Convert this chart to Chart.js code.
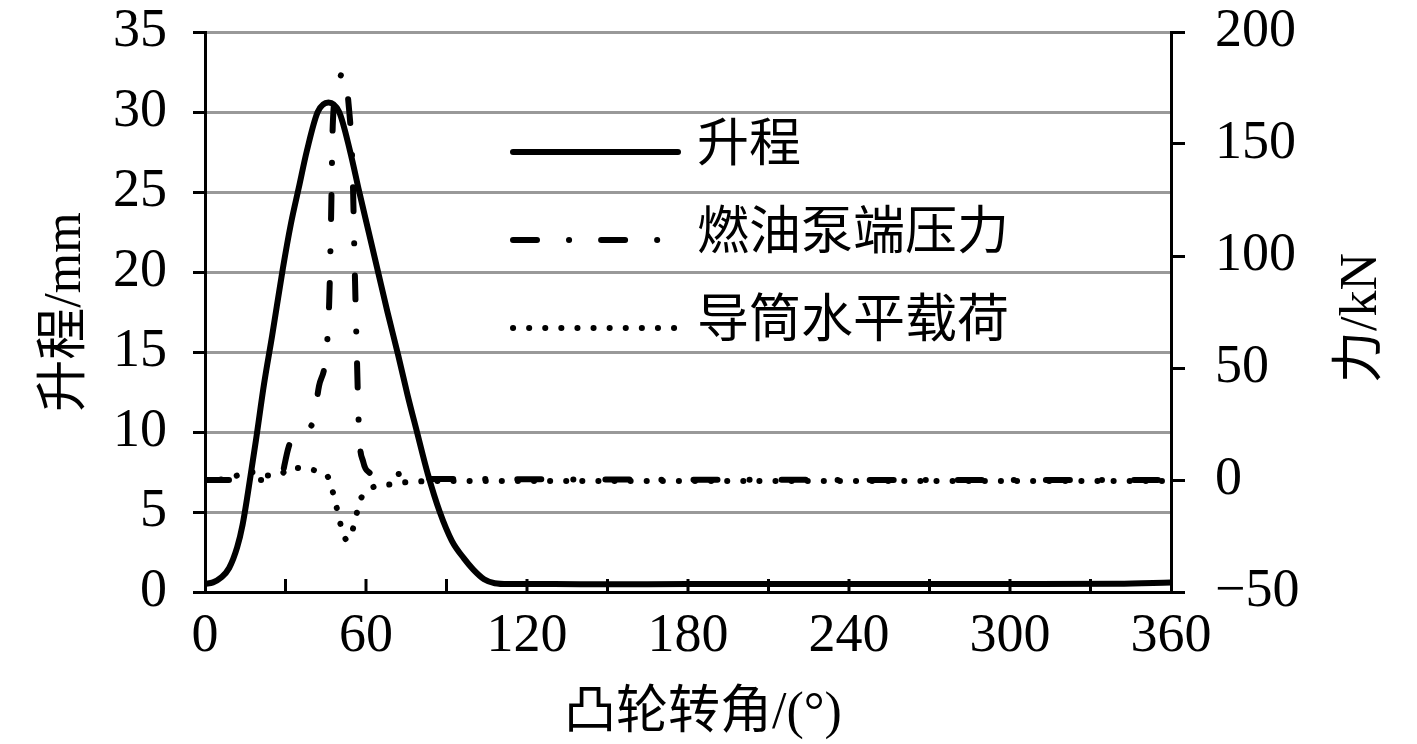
<!DOCTYPE html>
<html>
<head>
<meta charset="utf-8">
<script src="https://cdn.jsdelivr.net/npm/chart.js@4.4.1/dist/chart.umd.min.js"></script>
<style>
  body { margin: 0; background: #fff; }
  #wrap { width: 1417px; height: 744px; }
</style>
</head>
<body>
<div id="wrap"><canvas id="chart1"></canvas></div>
<script>
// 升程 (mm, left axis)
var liftAngle = [0, 3, 6, 9, 12, 14, 16, 19, 22, 25, 29, 32, 35, 38, 42, 46, 50, 54, 57.5, 61, 64.5, 68, 72, 75.5, 79, 83, 87.5, 92, 96.5, 100, 104, 108, 113, 130, 150, 180, 220, 260, 300, 340, 360];
var liftValue = [0.5, 0.6, 0.9, 1.5, 2.8, 4.2, 6.2, 9.5, 13, 16, 20.2, 23, 25.3, 27.6, 30, 30.6, 30, 27.6, 25, 22.5, 20, 17.5, 14.8, 12.3, 10, 7.4, 5, 3.2, 2.1, 1.4, 0.8, 0.55, 0.5, 0.5, 0.48, 0.5, 0.5, 0.5, 0.5, 0.52, 0.6];

// 燃油泵端压力 (kN, right axis)
var pumpAngle = [0, 28.5, 29.5, 31, 32.5, 36, 40, 42.5, 45, 46.3, 47, 47.6, 49, 51.5, 53.5, 55, 55.7, 56.5, 57.4, 59, 61.5, 64, 70, 74, 80, 84, 360];
var pumpForce = [0, 0, 6, 14, 19, 22, 25, 42, 55, 80, 118, 158, 173, 182, 168, 138, 100, 60, 22, 8, 3, 0.5, 2, 3, 3, 0.5, 0];

// 导筒水平载荷 (kN, right axis)
var guideAngle = [0, 8, 12, 18, 22, 28, 32, 37, 43, 46, 48, 49.6, 51, 53, 54.5, 56, 57.5, 59.5, 63, 69, 75, 85, 360];
var guideForce = [0, 0.5, 2, 3.5, 2, 2.5, 5.5, 5, 3.5, 1, -7, -15, -22, -27, -24, -18, -10, -6, -3, -2, -1, -0.5, -0.5];

var seriesNames = ['升程', '燃油泵端压力', '导筒水平载荷'];
var angleTicks = [0, 60, 120, 180, 240, 300, 360];
var liftTicks = [0, 5, 10, 15, 20, 25, 30, 35];
var forceTicks = [-50, 0, 50, 100, 150, 200];

var serif = '"Liberation Serif", "Times New Roman", "Noto Sans CJK SC", serif';

function pts(xs, ys) {
  return xs.map(function(x, i) { return {x: x, y: ys[i]}; });
}

var extras = {
  id: 'extras',
  afterDraw: function(chart) {
    var ctx = chart.ctx, xs = chart.scales.x, area = chart.chartArea;
    ctx.save();
    // inward ticks on angle axis
    ctx.strokeStyle = '#000';
    ctx.lineWidth = 3;
    for (var a = 30; a < 360; a += 30) {
      var px = xs.getPixelForValue(a);
      ctx.beginPath();
      ctx.moveTo(px, area.bottom);
      ctx.lineTo(px, area.bottom - 13);
      ctx.stroke();
    }

    // axis titles
    ctx.fillStyle = '#000';
    ctx.font = '52px ' + serif;
    ctx.textAlign = 'center';
    ctx.textBaseline = 'middle';
    ctx.fillText('凸轮转角/(°)', 703, 714);
    ctx.save();
    ctx.translate(66, 312);
    ctx.rotate(-Math.PI / 2);
    ctx.fillText('升程/mm', 0, 0);
    ctx.restore();
    ctx.save();
    ctx.translate(1362, 318);
    ctx.rotate(-Math.PI / 2);
    ctx.fillText('力/kN', 0, 0);
    ctx.restore();

    // legend
    var rows = [152, 240, 328];
    chart.data.datasets.forEach(function(ds, i) {
      var y = rows[i];
      ctx.save();
      ctx.strokeStyle = ds.borderColor;
      ctx.lineWidth = ds.borderWidth;
      ctx.lineCap = 'round';
      ctx.setLineDash(ds.borderDash || []);
      ctx.beginPath();
      ctx.moveTo(513, y);
      ctx.lineTo(i === 1 ? 660 : 678, y);
      ctx.stroke();
      ctx.restore();
      ctx.textAlign = 'left';
      ctx.fillText(ds.label, 697, y - 5);
    });
    ctx.restore();
  }
};

var ctx = document.getElementById('chart1').getContext('2d');

var myChart = new Chart(ctx, {
  type: 'line',
  data: {
    datasets: [{
      label: seriesNames[0],
      data: pts(liftAngle, liftValue),
      yAxisID: 'y',
      borderColor: '#000',
      borderWidth: 6,
      borderCapStyle: 'round',
      cubicInterpolationMode: 'monotone',
      pointRadius: 0
    }, {
      label: seriesNames[1],
      data: pts(pumpAngle, pumpForce),
      yAxisID: 'y1',
      borderColor: '#000',
      borderWidth: 6,
      borderDash: [24, 32, 0.1, 32],
      borderCapStyle: 'round',
      cubicInterpolationMode: 'monotone',
      pointRadius: 0
    }, {
      label: seriesNames[2],
      data: pts(guideAngle, guideForce),
      yAxisID: 'y1',
      borderColor: '#000',
      borderWidth: 6,
      borderDash: [0.1, 16],
      borderCapStyle: 'round',
      cubicInterpolationMode: 'monotone',
      pointRadius: 0
    }]
  },
  options: {
    responsive: true,
    maintainAspectRatio: false,
    animation: false,
    layout: { padding: { top: 32, left: 0, right: 0, bottom: 0 } },
    plugins: {
      legend: { display: false },
      tooltip: { enabled: false }
    },
    scales: {
      x: {
        type: 'linear',
        min: angleTicks[0],
        max: angleTicks[angleTicks.length - 1],
        afterFit: function(s) { s.height = 152; },
        afterBuildTicks: function(s) { s.ticks = angleTicks.map(function(v) { return {value: v}; }); },
        ticks: {
          color: '#000',
          padding: 12,
          font: { family: serif, size: 54 },
          maxRotation: 0
        },
        grid: { display: false, drawTicks: false },
        border: { display: true, color: '#000', width: 3 }
      },
      y: {
        position: 'left',
        min: liftTicks[0],
        max: liftTicks[liftTicks.length - 1],
        afterFit: function(s) { s.width = 205; s.paddingTop = 0; s.paddingBottom = 0; },
        afterBuildTicks: function(s) { s.ticks = liftTicks.map(function(v) { return {value: v}; }); },
        ticks: {
          color: '#000',
          padding: 26,
          font: { family: serif, size: 54 }
        },
        grid: {
          color: function(c) { return c.tick && c.tick.value === 0 ? 'rgba(0,0,0,0)' : '#999'; },
          lineWidth: 3,
          tickColor: '#000',
          tickLength: 12
        },
        border: { display: true, color: '#000', width: 3 }
      },
      y1: {
        position: 'right',
        min: forceTicks[0],
        max: forceTicks[forceTicks.length - 1],
        afterFit: function(s) { s.width = 246; s.paddingTop = 0; s.paddingBottom = 0; },
        afterBuildTicks: function(s) { s.ticks = forceTicks.map(function(v) { return {value: v}; }); },
        ticks: {
          color: '#000',
          padding: 30,
          font: { family: serif, size: 54 },
          callback: function(v) { return String(v).replace('-', '\u2212'); }
        },
        grid: {
          drawOnChartArea: false,
          lineWidth: 3,
          tickColor: '#000',
          tickLength: 14
        },
        border: { display: true, color: '#000', width: 3 }
      }
    }
  },
  plugins: [extras]
});
</script>
</body>
</html>
